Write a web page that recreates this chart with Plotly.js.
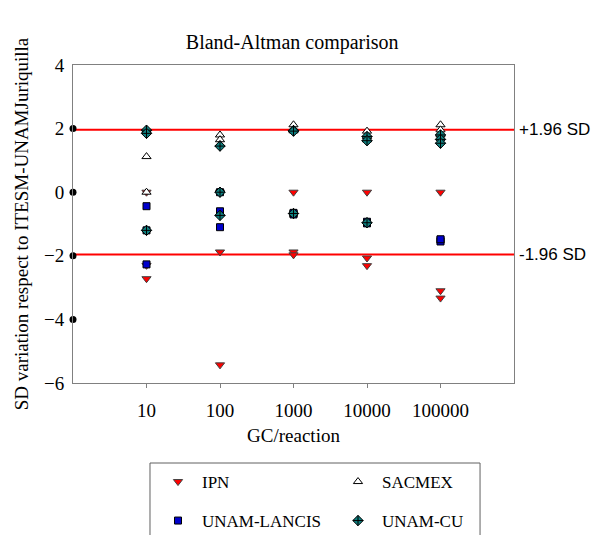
<!DOCTYPE html>
<html><head><meta charset="utf-8">
<script src="https://cdn.plot.ly/plotly-3.0.1.min.js"></script>
<style>html,body{margin:0;padding:0;background:#fff}#chart{width:600px;height:535px}</style>
</head><body><div id="chart"></div>
<script>
// Data
const tickValues = [10, 100, 1000, 10000, 100000];
const tickLabels = ['10', '100', '1000', '10000', '100000'];

const ipnX = [10, 10, 10, 100, 100, 100, 1000, 1000, 1000, 10000, 10000, 10000, 100000, 100000, 100000];
const ipnY = [0, -2.3, -2.72, 0, -1.88, -5.43, 0, -1.88, -1.97, 0, -2.07, -2.31, 0, -3.1, -3.33];

const sacmexX = [10, 10, 10, 100, 100, 100, 1000, 1000, 1000, 10000, 10000, 10000, 100000, 100000, 100000];
const sacmexY = [1.95, 1.12, 0, 1.8, 1.65, 1.5, 2.12, 1.97, 1.93, 1.92, 1.75, 1.65, 2.12, 1.96, 1.8];

const lancisX = [10, 10, 10, 100, 100, 100, 1000, 1000, 1000, 10000, 10000, 10000, 100000, 100000, 100000];
const lancisY = [-0.44, -2.27, -1.2, -0.6, -1.1, 0, -0.67, -0.7, -0.65, -0.96, -0.93, -0.98, -1.5, -1.55, -1.48];

const cuX = [10, 10, 10, 100, 100, 100, 1000, 1000, 1000, 10000, 10000, 10000, 100000, 100000, 100000];
const cuY = [1.95, 1.85, -1.2, 1.45, 0, -0.73, 1.94, 1.92, -0.67, 1.75, 1.62, -0.96, 1.8, 1.66, 1.54];

const refX = [1, 1, 1, 1];
const refY = [2, 0, -2, -4];

const sdLimits = [1.96, -1.96];
const sdLabels = ['+1.96 SD', '-1.96 SD'];

const serif = 'Liberation Serif, Times New Roman, serif';
const sans = 'Liberation Sans, Arial, sans-serif';

const traces = [
  {x: refX, y: refY, type: 'scatter', mode: 'markers', showlegend: false, cliponaxis: false,
   marker: {symbol: 'circle', size: 7, color: '#000'}, hoverinfo: 'skip'},
  {x: ipnX, y: ipnY, type: 'scatter', mode: 'markers', name: 'IPN', cliponaxis: false, legend: 'legend',
   marker: {symbol: 'triangle-down', size: 8, color: '#ff0000', line: {color: '#404040', width: 1}}},
  {x: sacmexX, y: sacmexY, type: 'scatter', mode: 'markers', name: 'SACMEX', cliponaxis: false, legend: 'legend2',
   marker: {symbol: 'triangle-up', size: 8, color: '#ffffff', line: {color: '#000', width: 1}}},
  {x: lancisX, y: lancisY, type: 'scatter', mode: 'markers', name: 'UNAM-LANCIS', cliponaxis: false, legend: 'legend3',
   marker: {symbol: 'square', size: 7, color: '#0000cc', line: {color: '#000', width: 1}}},
  {x: cuX, y: cuY, type: 'scatter', mode: 'markers', name: 'UNAM-CU', cliponaxis: false, legend: 'legend4',
   marker: {symbol: 'diamond-cross', size: 8, color: '#0f7f7f', line: {color: '#000', width: 1}}}
];

const shapes = sdLimits.map(v => ({
  type: 'line', xref: 'paper', x0: 0, x1: 1, yref: 'y', y0: v, y1: v,
  line: {color: '#ff0000', width: 2}, layer: 'below'
}));
// legend frame
shapes.push({type: 'rect', xref: 'paper', yref: 'paper', x0: 0.1746, x1: 0.923, y0: -0.52, y1: -0.2516,
  line: {color: '#606060', width: 1}, fillcolor: 'rgba(0,0,0,0)'});

const annotations = sdLimits.map((v, i) => ({
  x: 1, xref: 'paper', y: v, yref: 'y', text: sdLabels[i], showarrow: false,
  xanchor: 'left', yanchor: 'middle', xshift: 3, font: {family: sans, size: 17, color: '#000'}
}));

function leg(xpx, ypx) {
  return {xref: 'container', yref: 'container', x: xpx / 600, y: 1 - ypx / 535,
          xanchor: 'left', yanchor: 'middle', orientation: 'h', itemwidth: 38,
          bgcolor: 'rgba(0,0,0,0)', borderwidth: 0, font: {family: serif, size: 17, color: '#000'}};
}

const layout = {
  width: 600, height: 535,
  margin: {l: 73, r: 86, t: 65, b: 152},
  paper_bgcolor: '#fff', plot_bgcolor: '#fff',
  font: {family: serif, size: 19, color: '#000'},
  title: {text: 'Bland-Altman comparison', x: 0.487, xanchor: 'center', yref: 'container', y: 1 - 42 / 535, yanchor: 'middle',
          font: {family: serif, size: 20, color: '#000'}},
  xaxis: {type: 'log', range: [0, 6], tickvals: tickValues, ticktext: tickLabels,
          showgrid: false, zeroline: false, showline: true, linecolor: '#808080', linewidth: 1, mirror: true,
          ticks: 'outside', ticklen: 4, tickcolor: '#808080', tickfont: {family: serif, size: 19},
          ticklabelstandoff: 6,
          title: {text: 'GC/reaction', font: {family: serif, size: 19}, standoff: 8}},
  yaxis: {range: [-6, 4], dtick: 2, showgrid: false, zeroline: false, showline: true, linecolor: '#808080',
          linewidth: 1, mirror: true, ticks: '', tickfont: {family: serif, size: 19}, ticklabelstandoff: 4,
          title: {text: 'SD variation respect to ITESM-UNAMJuriquilla', font: {family: serif, size: 19}, standoff: 10}},
  showlegend: true,
  legend: leg(154, 482),
  legend2: leg(334, 482),
  legend3: leg(154, 521),
  legend4: leg(334, 521),
  shapes: shapes,
  annotations: annotations
};

Plotly.newPlot('chart', traces, layout, {displayModeBar: false, staticPlot: true});
</script>
</body></html>
